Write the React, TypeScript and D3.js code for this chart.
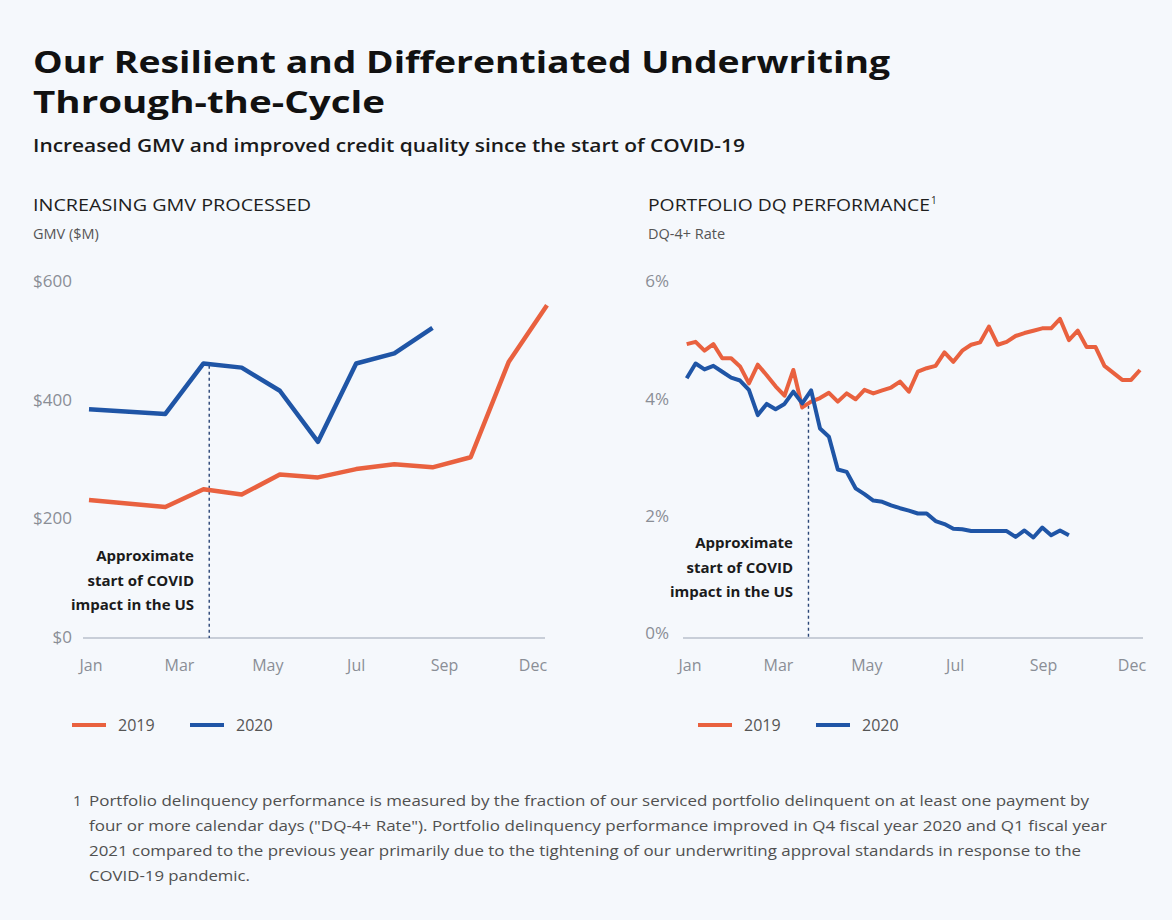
import React, { useEffect, useRef } from "react";
import * as d3 from "d3";

const monthLabels = ["Jan", "Mar", "May", "Jul", "Sep", "Dec"];
const seriesNames = ["2019", "2020"];

// GMV ($M) by period, period 1 has no reading
const gmvPeriods2019 = [0, 2, 3, 4, 5, 6, 7, 8, 9, 10, 11, 12];
const gmv2019 = [231, 219, 249, 240, 274, 269, 283, 291, 286, 303, 464, 559];
const gmvPeriods2020 = [0, 2, 3, 4, 5, 6, 7, 8, 9];
const gmv2020 = [384, 376, 461, 454, 415, 329, 461, 478, 521];
const gmvTicks = [0, 200, 400, 600];

// weekly DQ-4+ rate (%)
const dq2019 = [
  4.93, 4.97, 4.82, 4.93, 4.69, 4.69, 4.55, 4.26, 4.58, 4.4, 4.21, 4.05, 4.49,
  3.85, 3.95, 4.01, 4.1, 3.95, 4.09, 3.99, 4.15, 4.09, 4.14, 4.19, 4.29, 4.12,
  4.46, 4.52, 4.56, 4.79, 4.63, 4.82, 4.92, 4.96, 5.23, 4.92, 4.97, 5.07, 5.12,
  5.16, 5.2, 5.2, 5.36, 5.0, 5.16, 4.88, 4.88, 4.56, 4.44, 4.32, 4.32, 4.49,
];
const dq2020 = [
  4.35, 4.6, 4.5, 4.56, 4.46, 4.36, 4.31, 4.15, 3.72, 3.91, 3.82, 3.91, 4.12,
  3.92, 4.14, 3.49, 3.35, 2.79, 2.75, 2.47, 2.37, 2.26, 2.24, 2.18, 2.13, 2.09,
  2.04, 2.04, 1.91, 1.86, 1.78, 1.77, 1.74, 1.74, 1.74, 1.74, 1.74, 1.64, 1.75,
  1.63, 1.8, 1.67, 1.75, 1.67,
];
const dqTicks = [0, 2, 4, 6];

// approximate start of COVID impact
const covidGmv = { x: 3.15, top: 457 };
const covidDq = { x: 13.7, top: 3.88 };

const footnote = [
  "Portfolio delinquency performance is measured by the fraction of our serviced portfolio delinquent on at least one payment by",
  'four or more calendar days ("DQ-4+ Rate"). Portfolio delinquency performance improved in Q4 fiscal year 2020 and Q1 fiscal year',
  "2021 compared to the previous year primarily due to the tightening of our underwriting approval standards in response to the",
  "COVID-19 pandemic.",
];
const footnoteWidths = [1000, 1018, 992, 161];

const ORANGE = "#e9613f";
const BLUE = "#1f55a6";
const FONT = "'Open Sans', sans-serif";

const App: React.FC = () => {
  const svgRef = useRef<SVGSVGElement | null>(null);

  useEffect(() => {
    document.body.style.margin = "0";
    if (svgRef.current) {
      drawChart();
    }
  }, []);

  const drawChart = () => {
    const svg = d3.select(svgRef.current);
    svg.selectAll("*").remove();

    svg
      .append("rect")
      .attr("width", 1172)
      .attr("height", 920)
      .attr("fill", "#f5f8fc");

    // heading
    const head = svg.append("g").style("font-family", FONT);
    head
      .append("text")
      .attr("x", 33)
      .attr("y", 73)
      .attr("font-size", 31)
      .attr("font-weight", 700)
      .attr("fill", "#111")
      .attr("textLength", 857)
      .attr("lengthAdjust", "spacingAndGlyphs")
      .text("Our Resilient and Differentiated Underwriting");
    head
      .append("text")
      .attr("x", 33)
      .attr("y", 113)
      .attr("font-size", 31)
      .attr("font-weight", 700)
      .attr("fill", "#111")
      .attr("textLength", 352)
      .attr("lengthAdjust", "spacingAndGlyphs")
      .text("Through-the-Cycle");
    head
      .append("text")
      .attr("x", 33)
      .attr("y", 152)
      .attr("font-size", 18)
      .attr("font-weight", 600)
      .attr("fill", "#1a1a1a")
      .attr("textLength", 712)
      .attr("lengthAdjust", "spacingAndGlyphs")
      .text("Increased GMV and improved credit quality since the start of COVID-19");

    const drawPanel = (opts: {
      left: number;
      title: string;
      titleWidth: number;
      sup?: string;
      unit: string;
      xRange: [number, number];
      xDomain: [number, number];
      tickRange: [number, number];
      yDomain: [number, number];
      yRange: [number, number];
      yTicks: number[];
      yFormat: (v: number) => string;
      tickX: number;
      axis: [number, number];
      series: { xs: number[]; ys: number[]; color: string; width: number }[];
      covid: { x: number; top: number };
      noteX: number;
      noteY: number;
      legendX: number;
    }) => {
      const g = svg.append("g").style("font-family", FONT);

      g.append("text")
        .attr("x", opts.left)
        .attr("y", 211)
        .attr("font-size", 17)
        .attr("fill", "#1e1e1e")
        .attr("textLength", opts.titleWidth)
        .attr("lengthAdjust", "spacingAndGlyphs")
        .text(opts.title);
      if (opts.sup) {
        g.append("text")
          .attr("x", opts.left + opts.titleWidth + 1)
          .attr("y", 204)
          .attr("font-size", 10)
          .attr("fill", "#1e1e1e")
          .text(opts.sup);
      }
      g.append("text")
        .attr("x", opts.left)
        .attr("y", 239)
        .attr("font-size", 14.5)
        .attr("fill", "#555")
        .text(opts.unit);

      const x = d3.scaleLinear().domain(opts.xDomain).range(opts.xRange);
      const y = d3.scaleLinear().domain(opts.yDomain).range(opts.yRange);
      const xTick = d3.scalePoint<string>().domain(monthLabels).range(opts.tickRange);

      // y tick labels
      g.selectAll(".ytick")
        .data(opts.yTicks)
        .join("text")
        .attr("x", opts.tickX)
        .attr("y", (d) => y(d))
        .attr("dy", "0.35em")
        .attr("text-anchor", "end")
        .attr("font-size", 17)
        .attr("fill", "#8a8e96")
        .text((d) => opts.yFormat(d));

      // baseline
      const baseY = 638;
      g.append("line")
        .attr("x1", opts.axis[0])
        .attr("x2", opts.axis[1])
        .attr("y1", baseY)
        .attr("y2", baseY)
        .attr("stroke", "#b8c1cd")
        .attr("stroke-width", 1.5);

      // month labels
      g.selectAll(".xtick")
        .data(monthLabels)
        .join("text")
        .attr("x", (d) => xTick(d) as number)
        .attr("y", 671)
        .attr("text-anchor", "middle")
        .attr("font-size", 16)
        .attr("fill", "#8a8e96")
        .text((d) => d);

      // covid marker
      g.append("line")
        .attr("x1", x(opts.covid.x))
        .attr("x2", x(opts.covid.x))
        .attr("y1", y(opts.covid.top))
        .attr("y2", baseY)
        .attr("stroke", "#2a4677")
        .attr("stroke-width", 1.4)
        .attr("stroke-dasharray", "3,3");

      const note = ["Approximate", "start of COVID", "impact in the US"];
      g.selectAll(".note")
        .data(note)
        .join("text")
        .attr("x", opts.noteX)
        .attr("y", (_, i) => opts.noteY + i * 24.5)
        .attr("text-anchor", "end")
        .attr("font-size", 15)
        .attr("font-weight", 700)
        .attr("fill", "#1b1b1b")
        .text((d) => d);

      opts.series.forEach((s) => {
        const line = d3
          .line<number>()
          .x((_, i) => x(s.xs[i]))
          .y((d) => y(d));
        g.append("path")
          .datum(s.ys)
          .attr("d", line)
          .attr("fill", "none")
          .attr("stroke", s.color)
          .attr("stroke-width", s.width)
          .attr("stroke-linejoin", "round");
      });

      // legend
      const lg = g.append("g").attr("transform", `translate(${opts.legendX},725)`);
      [ORANGE, BLUE].forEach((c, i) => {
        const off = i * 118;
        lg.append("line")
          .attr("x1", off)
          .attr("x2", off + 34)
          .attr("y1", 0)
          .attr("y2", 0)
          .attr("stroke", c)
          .attr("stroke-width", 4);
        lg.append("text")
          .attr("x", off + 46)
          .attr("y", 0)
          .attr("dy", "0.35em")
          .attr("font-size", 16)
          .attr("fill", "#555")
          .text(seriesNames[i]);
      });
    };

    drawPanel({
      left: 33,
      title: "INCREASING GMV PROCESSED",
      titleWidth: 278,
      unit: "GMV ($M)",
      xRange: [89, 547],
      xDomain: [0, 12],
      tickRange: [91, 533],
      yDomain: [0, 600],
      yRange: [637, 281],
      yTicks: gmvTicks,
      yFormat: (v) => `$${v}`,
      tickX: 72,
      axis: [83, 545],
      series: [
        { xs: gmvPeriods2019, ys: gmv2019, color: ORANGE, width: 4.5 },
        { xs: gmvPeriods2020, ys: gmv2020, color: BLUE, width: 4.5 },
      ],
      covid: covidGmv,
      noteX: 194,
      noteY: 561,
      legendX: 72,
    });

    drawPanel({
      left: 648,
      title: "PORTFOLIO DQ PERFORMANCE",
      titleWidth: 282,
      sup: "1",
      unit: "DQ-4+ Rate",
      xRange: [686.7, 1140],
      xDomain: [0, 51],
      tickRange: [690, 1132],
      yDomain: [0, 6],
      yRange: [633, 281.5],
      yTicks: dqTicks,
      yFormat: (v) => `${v}%`,
      tickX: 669,
      axis: [683, 1143],
      series: [
        { xs: dq2019.map((_, i) => i), ys: dq2019, color: ORANGE, width: 4 },
        { xs: dq2020.map((_, i) => i), ys: dq2020, color: BLUE, width: 4 },
      ],
      covid: covidDq,
      noteX: 793,
      noteY: 548,
      legendX: 698,
    });

    // footnote
    const fn = svg.append("g").style("font-family", FONT).attr("font-size", 15).attr("fill", "#505050");
    fn.append("text").attr("x", 73).attr("y", 806).text("1");
    footnote.forEach((t, i) => {
      fn.append("text")
        .attr("x", 89)
        .attr("y", 806 + i * 25)
        .attr("textLength", footnoteWidths[i])
        .attr("lengthAdjust", "spacingAndGlyphs")
        .text(t);
    });
  };

  return <svg ref={svgRef} width={1172} height={920} style={{ display: "block" }}></svg>;
};

export default App;
